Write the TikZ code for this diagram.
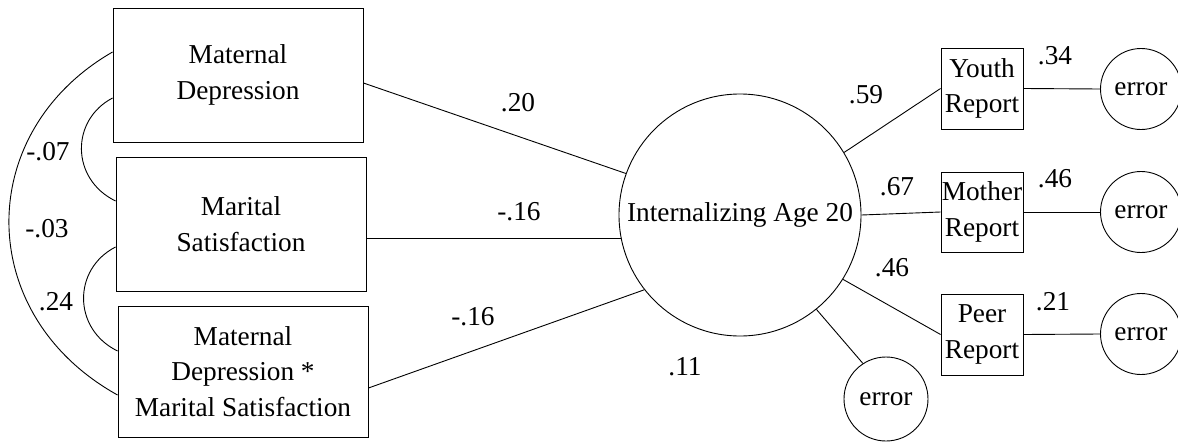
\documentclass[tikz,border=0pt]{standalone}
\usepackage{fontspec}
\setmainfont{Liberation Serif}
\begin{document}
\begin{tikzpicture}[x=1pt,y=-1pt,
  font=\fontsize{27.3}{35.5}\selectfont,
  line width=0.9pt,
  box/.style={draw, rectangle, minimum width=250pt, minimum height=134pt, align=center, inner sep=2pt},
  ind/.style={draw, rectangle, minimum width=82pt, minimum height=81pt, align=center, inner sep=0.5pt},
  err/.style={draw, circle, minimum size=81pt, inner sep=0pt},
  lat/.style={draw, circle, minimum size=242pt, inner sep=0pt},
  lab/.style={inner sep=0pt}]
\useasboundingbox (0,0) rectangle (1178,442);

% exogenous boxes
\node[box] (md) at (238,75) {Maternal\\Depression};
\node[box] (ms) at (241,224) {Marital\\Satisfaction};
\node[box, minimum height=131pt] (ix) at (243,371.5) {Maternal\\Depression *\\Marital Satisfaction};

% latent
\node[lat] (c) at (740,215) {Internalizing Age 20};

% indicators
\node[ind] (yr) at (982,88.5) {Youth\\Report};
\node[ind, minimum height=80pt] (mr) at (982,212) {Mother\\Report};
\node[ind] (pr) at (982,334.5) {Peer\\Report};

% errors
\node[err] (e1) at (1141,89) {error};
\node[err] (e2) at (1141,212) {error};
\node[err] (e3) at (1141,334) {error};
\node[err, minimum size=84pt] (e4) at (886,399) {error};

% paths
\draw ([yshift=-8pt]md.east) -- (c.160);
\draw (ms.east |- c.191) -- (c.191);
\draw ([yshift=-16.5pt]ix.east) -- (c.218);
\draw (c.31) -- (yr.west);
\draw (c.east) -- (mr.west);
\draw (c.328) -- (pr.west);
\draw (c.309) -- (e4.123);
\draw (yr.east) -- (e1.west);
\draw (mr.east) -- (e2.west);
\draw (pr.east) -- (e3.west);

% covariances
\draw ([yshift=23pt]md.west) .. controls +(-139,80) and +(-144,-80) .. ([yshift=-23.5pt]ix.west);
\draw ([yshift=-23pt]md.west) .. controls +(-42,22) and +(-45,-22) .. ([yshift=23pt]ms.west);
\draw ([yshift=-23pt]ms.west) .. controls +(-43,22) and +(-45,-22) .. ([yshift=20.5pt]ix.west);

% labels
\node[lab] (l1) at (48,152) {-.07};
\node[lab] (l2) at (47,229) {-.03};
\node[lab] (l3) at (56,302) {.24};
\node[lab] (l4) at (518,103) {.20};
\node[lab] (l5) at (519,212) {-.16};
\node[lab] (l6) at (473,317) {-.16};
\node[lab] (l7) at (685,367) {.11};
\node[lab] (l8) at (866,95) {.59};
\node[lab] (l9) at (897,187) {.67};
\node[lab] (l10) at (892,268) {.46};
\node[lab] (l11) at (1055,56) {.34};
\node[lab] (l12) at (1055,179) {.46};
\node[lab] (l13) at (1053,302) {.21};
\end{tikzpicture}
\end{document}
